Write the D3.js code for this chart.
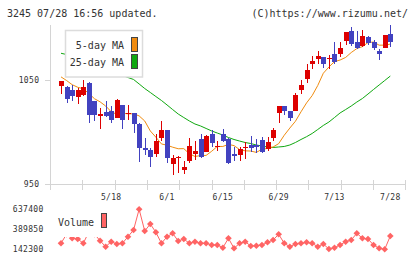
<!DOCTYPE html>
<html>
<head>
<meta charset="utf-8">
<script src="https://cdn.jsdelivr.net/npm/d3@7"></script>
<style>
  body { margin: 0; background: #fff; }
  text { font-family: "DejaVu Sans Mono", monospace; fill: #333; }
</style>
</head>
<body>
<div id="chart"></div>
<script>
// Données
const dateLabels = [[9, '5/18'], [19, '6/1'], [29, '6/15'], [39, '6/29'], [49, '7/13'], [59, '7/28']];
const openV  = [1044.5,1043,1040.4,1034,1035.9,1047.1,1029.8,1015.7,1019.2,1020.2,1013.8,1026,1017.3,1018,1007.7,984.3,982.7,978.8,994.5,1001.9,969.2,974.7,963.5,972.1,978.6,993.3,981.1,998,985.3,998,993.3,978.6,977.9,985,987.5,987.5,992.3,983.7,993.9,1018.6,1025,1020.2,1020.2,1040.7,1051.3,1065.7,1069.9,1072.1,1070.5,1074.7,1074.7,1087.2,1097.1,1086.5,1082.4,1091.3,1086.5,1077.9,1081.1,1094];
const highV  = [1049,1044.2,1045.2,1042,1050,1048.1,1029.8,1022.8,1029.8,1025,1032,1026,1026,1018,1008.3,994,985,998,1010.6,1001.9,977.9,976.9,972.1,994.5,991.3,998,997.1,1001.9,991.3,1002.9,994.5,985.3,985.3,990.7,996.2,993,994.9,994.9,1004.2,1025,1025,1020.2,1037.5,1050.3,1065.1,1073.1,1077.6,1072.1,1074.3,1086.5,1086.5,1096.2,1101,1097.1,1097.8,1092.3,1088.2,1080.1,1093,1102.6];
const lowV   = [1036.5,1028.2,1029.8,1027.2,1034.6,1008.3,1010.9,1003.2,1014.8,1009,1013.8,1003.2,1011.5,999.4,971.4,977.9,966.6,976,991.6,969.9,958.7,960.9,959.6,970.5,973.1,975.3,980.5,985.3,981.7,990.1,969.2,972.1,972.4,974,981.1,979.5,979.5,982,991.6,1009,1016,1010.3,1020.2,1036.8,1047.4,1060.9,1065.7,1061.9,1060.9,1065.7,1072.1,1083.4,1082.7,1079.5,1081.7,1083.4,1079.2,1069.5,1081.1,1081.7];
const closeV = [1049,1032,1034.9,1040.4,1043,1016.3,1016.3,1017.6,1015.7,1011.5,1030.8,1011.5,1018.6,1007.4,984.9,982.7,975.6,991.3,1001.9,975.3,975.3,976.3,966.7,986.5,981.7,976.3,996.2,989.7,986.8,991.3,970.5,977.2,983.7,985.9,984.9,985.3,981.1,990.7,1002.2,1025,1019.9,1013.8,1035.9,1045.5,1059.9,1068.3,1073.1,1065.7,1071.5,1067.3,1081.1,1096.2,1085,1080.8,1092.3,1085.9,1080.8,1075.3,1093,1086.5];
const ma5    = [1053,1049.5,1045.5,1043,1041.5,1037,1032,1029,1025,1019.5,1017,1018,1017.5,1017.5,1015.5,1010.6,1001,995,988.5,987.3,985.4,983.9,984,979.1,976.5,977.3,977.5,981.5,986.1,986.1,988.1,986.9,983.1,981.9,981.7,980.4,983.4,984.2,985.6,988.8,996.9,1003.8,1010.3,1019.4,1028,1035,1044.7,1056.5,1062.5,1067.7,1069.2,1071.7,1076.4,1080.2,1082.1,1086,1086.5,1083.5,1083.5,1084.5];
const ma25   = [1075.7,1074.5,1073.3,1071.8,1070.2,1068.3,1066.3,1064.1,1061.7,1059.1,1056.7,1054.3,1052.4,1050.5,1046.2,1041.8,1038,1034.1,1030.3,1026,1021.6,1017.3,1013.9,1010.6,1007.7,1005.8,1003.4,1001,999,997.1,994.7,992.8,991.3,989.9,988.9,987.5,986.5,985.6,985.1,985.6,986.1,987.5,989.9,992.8,995.5,998.6,1002.4,1006.3,1009.6,1013.9,1018.3,1021.6,1025,1028.8,1032.2,1036.5,1040.9,1045.2,1049.5,1053.8];
const volumeV = [216600,330000,278500,269800,216600,360000,330000,248800,174500,236400,207900,216600,298300,381200,637400,368800,455500,352700,216600,298300,340300,245000,269800,216600,236400,216600,216600,195500,195500,162100,278500,154700,216600,236400,183100,186900,195500,228900,257400,328000,216600,174500,207900,216600,228900,216600,174500,207900,146000,162100,195500,236400,257400,340300,278500,269800,195500,154700,142300,306900];
const priceTicks = [950, 1050];
const volumeTicks = [142300, 389850, 637400];

const W = 420, H = 259;
const RED = '#dd0000', BLUE = '#4242c0', ORANGE = '#f08c10', GREEN = '#10a810', VOLC = '#ff6464', GRID = '#d4d4d4';

const svg = d3.select('#chart').append('svg')
    .attr('width', W).attr('height', H);

// Echelles
const x = d3.scaleLinear().domain([0, closeV.length - 1]).range([61, 390.3]);
const y = d3.scaleLinear().domain([950, 1050]).range([184, 80]);
const yv = d3.scaleLinear().domain([142300, 637400]).range([249.3, 209.3]);

// Titre
svg.append('text').attr('x', 7).attr('y', 17).attr('font-size', 10).text('3245 07/28 16:56 updated.');
svg.append('text').attr('x', 408).attr('y', 17).attr('font-size', 10).attr('text-anchor', 'end').text('(C)https://www.rizumu.net/');

// Axes
const left = 50, right = 405.3, bottom = y(950);
svg.append('line').attr('x1', left + 0.5).attr('x2', left + 0.5).attr('y1', 25).attr('y2', bottom + 6)
    .attr('stroke', GRID);
svg.append('line').attr('x1', 45).attr('x2', right).attr('y1', Math.round(bottom) + 0.5).attr('y2', Math.round(bottom) + 0.5)
    .attr('stroke', GRID);
// graduations verticales
d3.range(12).forEach(k => {
    const tx = Math.round(left + (right - left) * k / 11) + 0.5;
    svg.append('line').attr('x1', tx).attr('x2', tx).attr('y1', bottom - 4).attr('y2', bottom + 6).attr('stroke', GRID);
});
priceTicks.forEach(p => {
    const ty = Math.round(y(p)) + 0.5;
    svg.append('line').attr('x1', 45).attr('x2', left).attr('y1', ty).attr('y2', ty).attr('stroke', GRID);
    svg.append('text').attr('x', 39.5).attr('y', y(p) + 3).attr('font-size', 8)
        .attr('text-anchor', 'end').attr('letter-spacing', 0.4).text(p);
});
dateLabels.forEach(([i, t]) => {
    svg.append('text').attr('x', x(i)).attr('y', 200).attr('font-size', 8)
        .attr('text-anchor', 'middle').attr('letter-spacing', 0.3).text(t);
});

// Moyennes mobiles
const lineGen = d3.line().x((d, i) => x(i)).y(d => y(d));
svg.append('path').datum(ma25).attr('d', lineGen).attr('fill', 'none').attr('stroke', GREEN).attr('stroke-width', 1);

// Légende (fond blanc au-dessus de la MA25)
const lg = svg.append('g');
lg.append('rect').attr('x', 65.5).attr('y', 30.5).attr('width', 77).attr('height', 46.5)
    .attr('fill', '#fff').attr('stroke', '#dcdcdc').attr('stroke-width', 1.5);
lg.append('text').attr('x', 124).attr('y', 48.5).attr('font-size', 10).attr('text-anchor', 'end').text('5-day MA');
lg.append('text').attr('x', 124).attr('y', 66).attr('font-size', 10).attr('text-anchor', 'end').text('25-day MA');
lg.append('rect').attr('x', 131.5).attr('y', 37.5).attr('width', 6).attr('height', 14)
    .attr('fill', ORANGE).attr('stroke', '#444');
lg.append('rect').attr('x', 131.5).attr('y', 54.5).attr('width', 6).attr('height', 14)
    .attr('fill', GREEN).attr('stroke', '#444');

svg.append('path').datum(ma5).attr('d', lineGen).attr('fill', 'none').attr('stroke', ORANGE).attr('stroke-width', 1);

// Bougies
const candles = svg.append('g').attr('shape-rendering', 'crispEdges');
closeV.forEach((c, i) => {
    const o = openV[i];
    const col = c >= o ? RED : BLUE;
    const cx = Math.round(x(i));
    candles.append('rect').attr('x', cx).attr('y', y(highV[i]))
        .attr('width', 1).attr('height', Math.max(1, y(lowV[i]) - y(highV[i]))).attr('fill', col);
    const top = y(Math.max(o, c)), bot = y(Math.min(o, c));
    candles.append('rect').attr('x', cx - 2).attr('y', top)
        .attr('width', 5).attr('height', Math.max(1.5, bot - top)).attr('fill', col);
});

// Volume
svg.append('path').datum(volumeV)
    .attr('d', d3.line().x((d, i) => x(i)).y(d => yv(d)))
    .attr('fill', 'none').attr('stroke', VOLC).attr('stroke-width', 1);
svg.append('g').selectAll('path').data(volumeV).enter().append('path')
    .attr('d', d3.symbol().type(d3.symbolSquare).size(22))
    .attr('transform', (d, i) => `translate(${x(i)},${yv(d)}) rotate(45)`)
    .attr('fill', VOLC);

// Légende volume (fond blanc)
svg.append('rect').attr('x', 56).attr('y', 204).attr('width', 56).attr('height', 33).attr('fill', '#fff');
svg.append('text').attr('x', 58).attr('y', 226).attr('font-size', 10).text('Volume');
svg.append('rect').attr('x', 101.5).attr('y', 213.5).attr('width', 5).attr('height', 14)
    .attr('fill', VOLC).attr('stroke', '#444');

volumeTicks.forEach(v => {
    svg.append('text').attr('x', 43.5).attr('y', yv(v) + 3).attr('font-size', 8)
        .attr('text-anchor', 'end').attr('letter-spacing', 0.3).text(v);
});
</script>
</body>
</html>
